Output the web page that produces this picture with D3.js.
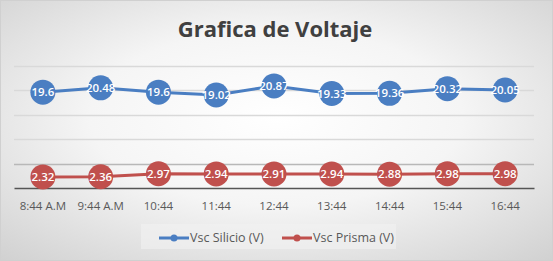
<!DOCTYPE html>
<html><head><meta charset="utf-8">
<script src="https://cdn.jsdelivr.net/npm/d3@7/dist/d3.min.js"></script>
<style>body{margin:0;background:#fff}svg{display:block}</style>
</head><body><svg id="c" width="553" height="261"></svg>
<script>
const categories = ["8:44 A.M","9:44 A.M","10:44","11:44","12:44","13:44","14:44","15:44","16:44"];
const silicio = [19.6,20.48,19.6,19.02,20.87,19.33,19.36,20.32,20.05];
const prisma = [2.32,2.36,2.97,2.94,2.91,2.94,2.88,2.98,2.98];
const yTicks = [0,5,10,15,20,25];
const seriesNames = ["Vsc Silicio (V)","Vsc Prisma (V)"];
const colors = ["#4A7EC2","#C0504D"];
const font = "'Open Sans', sans-serif";

const svg = d3.select("#c");
const W=553,H=261;
const defs = svg.append("defs");
const rg = defs.append("radialGradient").attr("id","bg").attr("cx","50%").attr("cy","45%").attr("r","75%");
rg.append("stop").attr("offset","0%").attr("stop-color","#ffffff");
rg.append("stop").attr("offset","45%").attr("stop-color","#f5f5f5");
rg.append("stop").attr("offset","100%").attr("stop-color","#d0d0d0");
svg.append("rect").attr("x",0.5).attr("y",0.5).attr("width",W-1).attr("height",H-1).attr("fill","url(#bg)").attr("stroke","#d0d0d0");

const x = d3.scaleBand().domain(categories).range([14,534]);
const y = d3.scaleLinear().domain([0,25]).range([188.3,65.7]);

svg.append("text").attr("x",275).attr("y",37).attr("text-anchor","middle")
  .attr("font-family",font).attr("font-weight","bold").attr("font-size",22).attr("fill","#404040").text("Grafica de Voltaje");

const grid = svg.append("g");
grid.selectAll("line").data(yTicks.slice(1)).join("line")
  .attr("x1",14).attr("x2",534).attr("y1",d=>Math.round(y(d))+0.5).attr("y2",d=>Math.round(y(d))+0.5)
  .attr("stroke",d=>d===5?"#b8b8b8":"#d9d9d9").attr("stroke-width",1.3);

const xAxis = svg.append("g").attr("transform",`translate(0,${Math.round(y(0))})`).call(d3.axisBottom(x).tickSize(0).tickPadding(14));
xAxis.select(".domain").attr("stroke","#555").attr("stroke-width",1.5);
xAxis.selectAll("text").attr("font-family",font).attr("font-size",11.5).attr("fill","#595959");

const all = [silicio,prisma];
all.forEach((vals,i)=>{
  const g = svg.append("g");
  const line = d3.line().x((d,j)=>x(categories[j])+x.bandwidth()/2).y(d=>y(d));
  g.append("path").datum(vals).attr("d",line).attr("fill","none").attr("stroke",colors[i]).attr("stroke-width",3);
  g.selectAll("circle").data(vals).join("circle")
    .attr("cx",(d,j)=>x(categories[j])+x.bandwidth()/2).attr("cy",d=>y(d)).attr("r",12.5).attr("fill",colors[i]);
  g.selectAll("text").data(vals).join("text")
    .attr("x",(d,j)=>x(categories[j])+x.bandwidth()/2).attr("y",d=>y(d)+4)
    .attr("text-anchor","middle").attr("font-family",font).attr("font-size",11.5).attr("font-weight",600).attr("fill","#fff")
    .text(d=>d);
});

// legend
const lg = svg.append("g");
lg.append("rect").attr("x",141).attr("y",224).attr("width",255).attr("height",25).attr("fill","#f2f2f2").attr("opacity",0.6);
const items=[{x:159,tx:190},{x:282,tx:313}];
items.forEach((it,i)=>{
  lg.append("line").attr("x1",it.x).attr("x2",it.x+30).attr("y1",238).attr("y2",238).attr("stroke",colors[i]).attr("stroke-width",3);
  lg.append("circle").attr("cx",it.x+15).attr("cy",238).attr("r",3.5).attr("fill",colors[i]);
  lg.append("text").attr("x",it.tx).attr("y",242).attr("font-family",font).attr("font-size",12.5).attr("fill","#595959").text(seriesNames[i]);
});
</script></body></html>
